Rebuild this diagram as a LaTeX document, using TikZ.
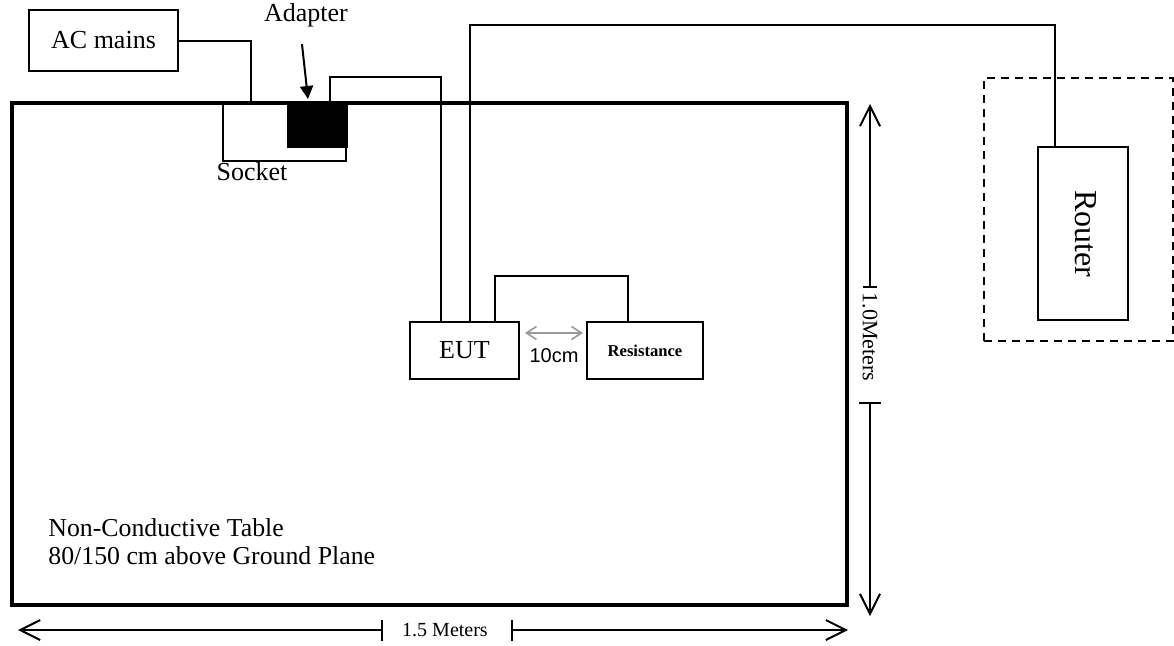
\documentclass[tikz,border=0pt]{standalone}
\usepackage{fontspec}
\setmainfont{Liberation Serif}
\newfontfamily\arialfont{Liberation Sans}
\usetikzlibrary{arrows.meta}
\usetikzlibrary{calc}
\usetikzlibrary{positioning}

\tikzset{
  box/.style={draw, line width=1pt, inner sep=0pt, font=\fontsize{13}{15}\selectfont},
  wire/.style={line width=1pt},
  dimline/.style={line width=1pt, >={Straight Barb[length=10pt,width=10pt]}},
  lbl/.style={inner sep=0pt, font=\fontsize{13}{15}\selectfont},
}

\begin{document}
\begin{tikzpicture}[x=0.5pt, y=-0.5pt]
  \useasboundingbox (0,0) rectangle (1174,645);

  % table and the things on it
  \node [box, line width=1.8pt, minimum width=417.5pt, minimum height=251pt] (table) at (429.5,354) {};
  \node [box, minimum width=74.5pt, minimum height=30.5pt] (mains) at (103.5,40.5) {AC mains};
  \node [box, minimum width=61.5pt, minimum height=29pt] (socket) at (284.5,132) {};
  \node [box, fill=black, minimum width=29.5pt, minimum height=22pt] (adapter) at (317.5,125) {};
  \node [box, minimum width=54.5pt, minimum height=28.5pt] (eut) at (464.5,350.5) {EUT};
  \node [box, minimum width=58pt, minimum height=28.5pt, font=\fontsize{8.3}{10}\selectfont\bfseries] (res) at (645,350.5) {Resistance};
  \node [box, dashed, dash pattern=on 4pt off 3pt, minimum width=94.5pt, minimum height=131.5pt] (area) at (1078.5,209.5) {};
  \node [box, minimum width=45pt, minimum height=86.5pt] (router) at (1083,233.5) {};
  \node [lbl, rotate=-90, font=\fontsize{16}{18}\selectfont] (routertxt) at (1086,234) {Router};

  \node [lbl] (adlbl) at (306,15) {Adapter};
  \node [lbl] (socklbl) at (252,172) {Socket};
  \node [lbl, font=\fontsize{10}{12}\selectfont\arialfont] (gap) at (554,356) {10cm};
  \node [lbl, font=\fontsize{12.9}{15}\selectfont, anchor=base west] (tbl1) at (48,536) {Non-Conductive Table};
  \node [lbl, font=\fontsize{12.9}{15}\selectfont, anchor=base west] (tbl2) at ($(tbl1.base west)+(0,28)$) {80/150 cm above Ground Plane};

  % cables
  \coordinate (plug) at (251,103);
  \draw [wire] (mains.east) -| (plug);
  \draw [wire] ($(adapter.north west)+(43,0)$) -- ++(0,-25) -| ($(eut.north west)+(32,0)$);
  \draw [wire] ($(eut.north west)+(61,0)$) -- ++(0,-296) -| ($(router.north west)+(18,0)$);
  \draw [wire] ($(eut.north west)+(86,0)$) -- ++(0,-45) -| ($(res.north west)+(42,0)$);

  \draw [wire, -{Triangle[length=6.5pt,width=6.5pt]}] ($(adlbl.south)+(-4,17)$) -- ($(adapter.north)+(-9.5,-3)$);
  \draw [line width=0.8pt, gray!80, {Straight Barb[length=5pt,width=6.5pt]}-{Straight Barb[length=5pt,width=6.5pt]}]
    ($(eut.east)+(5,-17.5)$) -- ($(res.west)+(-3,-17.5)$);

  % dimensions
  \node [lbl, rotate=-90, font=\fontsize{11}{13}\selectfont] (vdim) at (870,337) {1.0Meters};
  \coordinate (vtop) at (870,104);
  \coordinate (vbot) at (870,616);
  \draw [dimline, <-] (vtop) -- ($(vdim)+(0,-50)$);
  \draw [dimline, ->] ($(vdim)+(0,66)$) -- (vbot);
  \draw [dimline] ($(vdim)+(-7,-50)$) -- ++(14,0);
  \draw [dimline] ($(vdim)+(-11,66)$) -- ++(22,0);

  \node [lbl, font=\fontsize{10}{12}\selectfont] (hdim) at (445,630) {1.5 Meters};
  \coordinate (hleft) at (18,630);
  \coordinate (hright) at (848,630);
  \draw [dimline, <-] (hleft) -- ($(hdim)+(-63,0)$);
  \draw [dimline, ->] ($(hdim)+(67,0)$) -- (hright);
  \draw [dimline] ($(hdim)+(-63,-10)$) -- ++(0,21);
  \draw [dimline] ($(hdim)+(67,-10)$) -- ++(0,21);
\end{tikzpicture}
\end{document}
